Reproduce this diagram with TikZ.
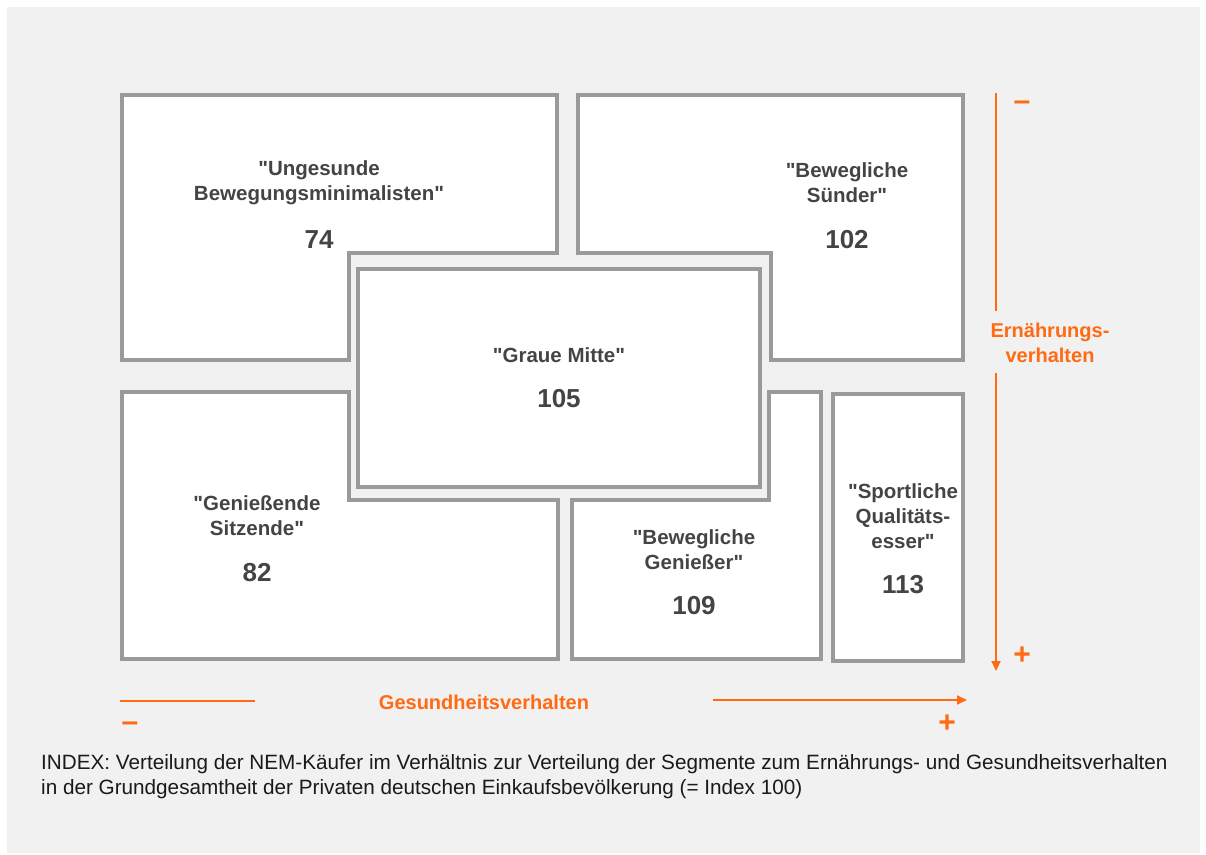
\documentclass[tikz,border=0pt]{standalone}
\usepackage{fontspec}
\setmainfont{Liberation Sans}[Ligatures=TeXOff]
\usetikzlibrary{arrows.meta}
\definecolor{bgc}{HTML}{F1F1F1}
\definecolor{boxline}{HTML}{9A9A9A}
\definecolor{lbl}{HTML}{444444}
\definecolor{orng}{RGB}{255,106,19}
\definecolor{captc}{HTML}{1A1A1A}
\begin{document}
\begin{tikzpicture}[x=1pt,y=-1pt,
  seg/.style={draw=boxline,line width=4pt,fill=white,line join=miter},
  segname/.style={text=lbl,font=\fontsize{20.5}{25}\selectfont\bfseries,align=center,inner sep=0pt},
  segnum/.style={text=lbl,font=\fontsize{26}{28}\selectfont\bfseries,inner sep=0pt},
  axis/.style={draw=orng,line width=2pt},
  axlabel/.style={text=orng,font=\fontsize{20}{25}\selectfont\bfseries,align=center,inner sep=0pt},
  sign/.style={text=orng,font=\fontsize{30}{30}\selectfont\bfseries,inner sep=0pt},
  capt/.style={text=captc,font=\fontsize{20.7}{25}\selectfont,inner sep=0pt,anchor=base west}]
\useasboundingbox (0,0) rectangle (1206,854);
\fill[white] (0,0) rectangle (1206,854);
\fill[bgc] (7,7) rectangle (1200,853);
% segments
\draw[seg] (122,95) -- (557,95) -- (557,253) -- (349,253) -- (349,360) -- (122,360) -- cycle;
\draw[seg] (578,95) -- (963,95) -- (963,360) -- (771,360) -- (771,253) -- (578,253) -- cycle;
\draw[seg,line width=4.5pt] (358,269) rectangle (760,487);
\draw[seg] (122,392) -- (349,392) -- (349,500) -- (558,500) -- (558,659) -- (122,659) -- cycle;
\draw[seg] (572,500) -- (769,500) -- (769,392) -- (821,392) -- (821,659) -- (572,659) -- cycle;
\draw[seg] (833,394) rectangle (963,661);
% labels
\node[segname] (la) at (319,183) {"Ungesunde\\Bewegungsminimalisten"};
\node[segnum] (na) at (319,240) {74};
\node[segname] (lb) at (847,183) {"Bewegliche\\Sünder"};
\node[segnum] (nb) at (847,240) {102};
\node[segname] (lm) at (559,355) {"Graue Mitte"};
\node[segnum] (nm) at (559,399) {105};
\node[segname] (lc) at (257,516) {"Genießende\\Sitzende"};
\node[segnum] (nc) at (257,573) {82};
\node[segname] (ld) at (694,550) {"Bewegliche\\Genießer"};
\node[segnum] (nd) at (694,606) {109};
\node[segname] (le) at (903,516) {"Sportliche\\Qualitäts-\\esser"};
\node[segnum] (ne) at (903,585) {113};
% vertical axis
\node[axlabel] (ern) at (1050,343) {Ernährungs-\\verhalten};
\coordinate (vtop) at (996,93);
\coordinate (vm1) at (996,311);
\coordinate (vm2) at (996,373);
\coordinate (vbot) at (996,671);
\draw[axis] (vtop) -- (vm1);
\draw[axis,-{Triangle[length=10pt,width=9pt]}] (vm2) -- (vbot);
\node[sign] (vminus) at (1022,106) {–};
\node[sign] (vplus) at (1022,656) {+};
% horizontal axis
\node[axlabel] (ges) at (484,702) {Gesundheitsverhalten};
\coordinate (hl) at (120,701);
\coordinate (hm1) at (255,701);
\coordinate (hm2) at (713,700);
\coordinate (hr) at (967,700);
\draw[axis] (hl) -- (hm1);
\draw[axis,-{Triangle[length=10pt,width=9pt]}] (hm2) -- (hr);
\node[sign] (hminus) at (130,727) {–};
\node[sign] (hplus) at (947,724) {+};
% caption
\node[capt] (cap1) at (41,769) {INDEX: Verteilung der NEM-Käufer im Verhältnis zur Verteilung der Segmente zum Ernährungs- und Gesundheitsverhalten};
\node[capt] (cap2) at (41,794) {in der Grundgesamtheit der Privaten deutschen Einkaufsbevölkerung (= Index 100)};
\end{tikzpicture}
\end{document}
